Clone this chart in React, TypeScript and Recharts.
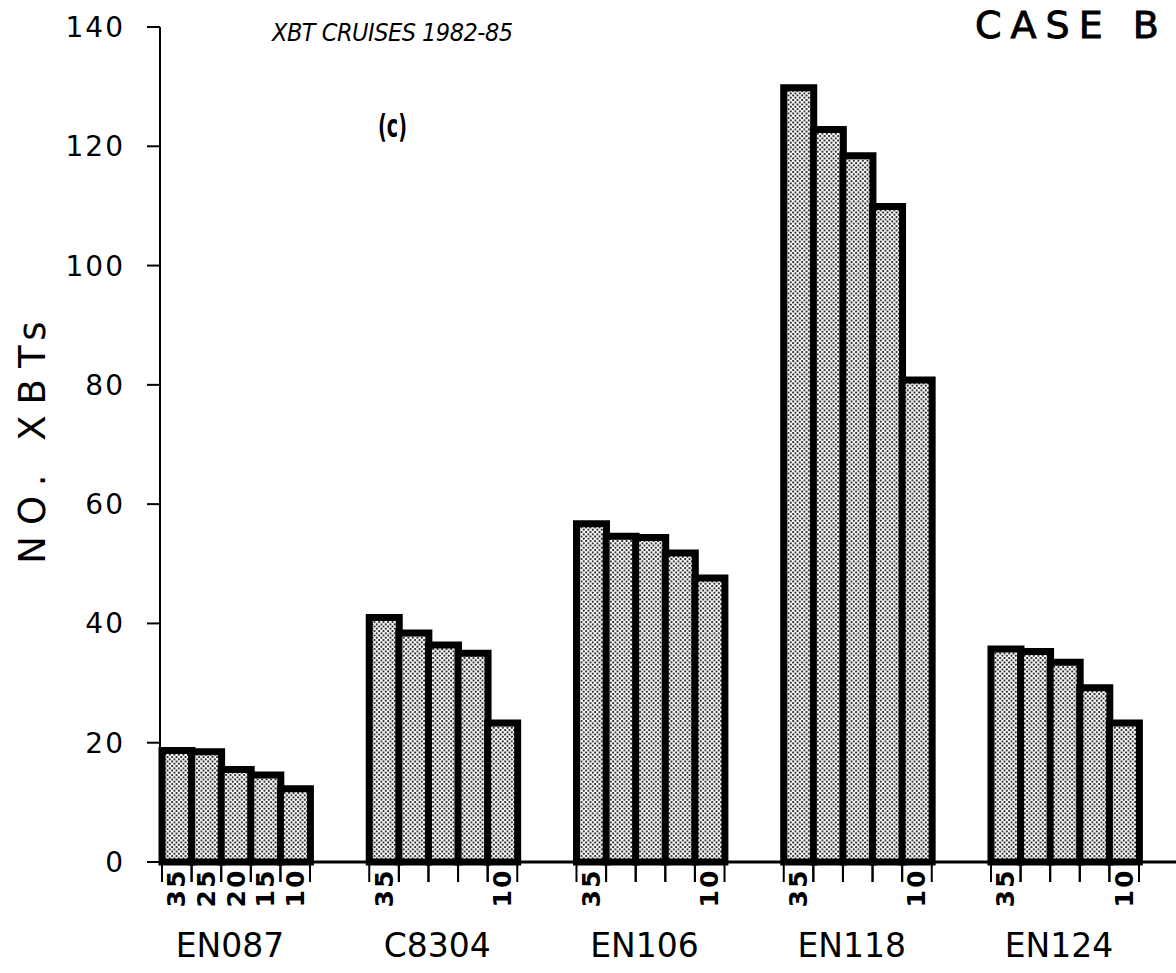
import { BarChart, Bar, XAxis, YAxis, Label } from 'recharts';

// ─── Data ─────────────────────────────────────────────────────────────────────

const cruises = ['EN087', 'C8304', 'EN106', 'EN118', 'EN124'];
const depths = [35, 25, 20, 15, 10];

const en087 = [18.7, 18.5, 15.5, 14.6, 12.3];
const c8304 = [41, 38.4, 36.4, 35, 23.3];
const en106 = [56.7, 54.6, 54.4, 51.8, 47.6];
const en118 = [129.8, 122.8, 118.4, 109.9, 80.8];
const en124 = [35.7, 35.3, 33.5, 29.2, 23.3];

// depth labels printed under each cruise
const shownDepths = [
  [35, 25, 20, 15, 10],
  [35, 10],
  [35, 10],
  [35, 10],
  [35, 10],
];

const yTicks = [0, 20, 40, 60, 80, 100, 120, 140];

// ─── Layout ───────────────────────────────────────────────────────────────────

const W = 1176;
const H = 973;
const FONT = '"DejaVu Sans", sans-serif';
const FONT_COND = '"DejaVu Sans Condensed", "DejaVu Sans", sans-serif';
const Y_AXIS_W = 160;
const PAD_L = 2;
const PAD_R = 37;
const GAP_SLOTS = 2;

const counts = [en087, c8304, en106, en118, en124];

type Row = {
  slot: string;
  cruise?: string;
  depth?: number;
  count: number | null;
  showDepth?: boolean;
  mid?: boolean;
};

const rows: Row[] = [];
cruises.forEach((cruise, i) => {
  depths.forEach((depth, j) => {
    rows.push({
      slot: `${cruise}-${depth}`,
      cruise,
      depth,
      count: counts[i][j],
      showDepth: shownDepths[i].includes(depth),
      mid: j === 2,
    });
  });
  if (i < cruises.length - 1) {
    for (let k = 0; k < GAP_SLOTS; k++) rows.push({ slot: `gap-${i}-${k}`, count: null });
  }
});

const BAND = (W - Y_AXIS_W - PAD_L - PAD_R) / rows.length;

// ─── Custom x tick: slot edges, rotated depth, cruise name ────────────────────

function DepthTick(props: any) {
  const { x, y, payload } = props;
  const row = rows[payload.index];
  if (!row || row.count == null) return null;
  const half = BAND / 2;
  return (
    <g>
      <line x1={x - half} y1={y} x2={x - half} y2={y + 20} stroke="#000" strokeWidth={2} />
      <line x1={x + half} y1={y} x2={x + half} y2={y + 20} stroke="#000" strokeWidth={2} />
      {row.showDepth && (
        <text
          x={x}
          y={y + 26}
          transform={`rotate(-90 ${x} ${y + 26})`}
          textAnchor="middle"
          dominantBaseline="central"
          fontFamily={FONT}
          fontSize={25}
          fontWeight={700}
          letterSpacing={2}
          fill="#000"
        >
          {row.depth}
        </text>
      )}
      {row.mid && (
        <text
          x={x - 6}
          y={y + 95}
          textAnchor="middle"
          fontFamily={FONT}
          fontSize={33}
          fill="#000"
        >
          {row.cruise}
        </text>
      )}
    </g>
  );
}

// ─── Component ────────────────────────────────────────────────────────────────

export default function App() {
  return (
    <div style={{ position: 'absolute', left: 0, top: 0, width: W, height: H, background: '#fff' }}>
      <svg width={0} height={0} style={{ position: 'absolute' }}>
        <defs>
          <pattern id="stipple" width={4.5} height={4.5} patternUnits="userSpaceOnUse">
            <rect width={4.5} height={4.5} fill="#fff" />
            <circle cx={1.1} cy={1.1} r={1.0} fill="#000" />
            <circle cx={3.35} cy={3.35} r={1.0} fill="#000" />
          </pattern>
        </defs>
      </svg>

      <BarChart
        width={W}
        height={H}
        data={rows}
        margin={{ top: 27, right: 0, bottom: 11, left: 0 }}
        barCategoryGap={0}
      >
        <XAxis
          dataKey="slot"
          interval={0}
          height={100}
          padding={{ left: PAD_L, right: PAD_R }}
          tickSize={0}
          tickMargin={0}
          tickLine={false}
          axisLine={{ stroke: '#000', strokeWidth: 3 }}
          tick={<DepthTick />}
        />
        <YAxis
          width={Y_AXIS_W}
          domain={[0, 140]}
          ticks={yTicks}
          interval={0}
          tickSize={13}
          tickMargin={22}
          axisLine={{ stroke: '#000', strokeWidth: 2 }}
          tickLine={{ stroke: '#000', strokeWidth: 2 }}
          tick={{ fill: '#000', fontSize: 28, fontFamily: FONT, letterSpacing: 2 }}
        >
          <Label
            content={() => (
              <text
                x={32}
                y={437}
                transform="rotate(-90 32 437)"
                textAnchor="middle"
                dominantBaseline="central"
                fontFamily={FONT}
                fontSize={37}
                letterSpacing={11}
                fill="#000"
              >
                NO. XBTs
              </text>
            )}
          />
        </YAxis>
        <Bar
          dataKey="count"
          fill="url(#stipple)"
          stroke="#000"
          strokeWidth={7}
          isAnimationActive={false}
        />
      </BarChart>

      <div
        style={{
          position: 'absolute', left: 272, top: 18, fontFamily: FONT_COND, fontSize: 25,
          fontStyle: 'italic', letterSpacing: -0.5, color: '#000', whiteSpace: 'nowrap',
        }}
      >
        XBT CRUISES 1982-85
      </div>
      <div
        style={{
          position: 'absolute', left: 378, top: 107, fontFamily: FONT, fontSize: 32,
          fontWeight: 700, color: '#000', transform: 'scaleX(0.6)', transformOrigin: 'left top',
          whiteSpace: 'nowrap',
        }}
      >
        (c)
      </div>
      <div
        style={{
          position: 'absolute', left: 975, top: 3, fontFamily: FONT, fontSize: 38,
          letterSpacing: 9, color: '#000', whiteSpace: 'nowrap', WebkitTextStroke: '0.9px #000',
        }}
      >
        CASE B
      </div>
    </div>
  );
}
